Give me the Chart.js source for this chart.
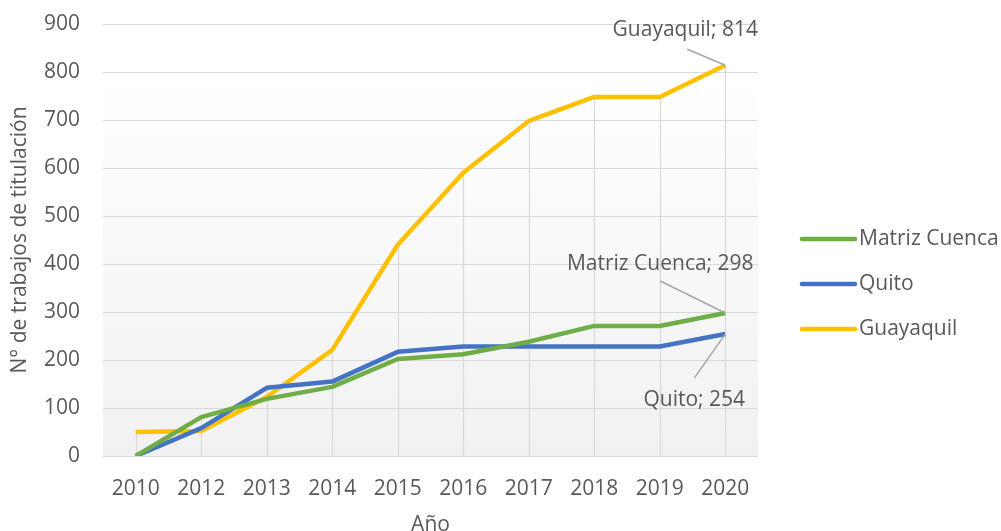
<!DOCTYPE html>
<html>
<head>
<meta charset="utf-8">
<script src="https://cdn.jsdelivr.net/npm/chart.js@4.4.1/dist/chart.umd.min.js"></script>
<style>
  html, body { margin: 0; padding: 0; background: #fff; }
  #wrap { width: 1001px; height: 531px; }
</style>
</head>
<body>
<div id="wrap"><canvas id="titulacionChart" width="1001" height="531"></canvas></div>
<script>
(function () {
    'use strict';

    var years = ['2010', '2012', '2013', '2014', '2015', '2016', '2017', '2018', '2019', '2020'];
    var cuenca = [0, 81, 119, 144, 202, 212, 238, 271, 271, 298];
    var quito = [0, 58, 142, 155, 217, 228, 228, 228, 228, 254];
    var guayaquil = [50, 52, 123, 221, 440, 590, 698, 748, 748, 814];
    var yTicks = [0, 100, 200, 300, 400, 500, 600, 700, 800, 900];

    var FONT = '"Open Sans", "DejaVu Sans", sans-serif';
    var FSIZE = 21;
    var TEXT = '#595959';

    // soft grey gradient behind the plot
    var plotBackground = {
        id: 'plotBackground',
        beforeDraw: function (chart) {
            var a = chart.chartArea, ctx = chart.ctx;
            var g = ctx.createLinearGradient(0, a.top, 0, a.bottom);
            g.addColorStop(0, '#ffffff');
            g.addColorStop(0.12, '#ffffff');
            g.addColorStop(1, '#f1f1f1');
            ctx.save();
            ctx.fillStyle = g;
            ctx.fillRect(a.left, a.top, a.right - a.left, a.bottom - a.top);
            ctx.restore();
        }
    };

    // drop lines from the highest point of each year down to the axis
    var dropLines = {
        id: 'dropLines',
        beforeDatasetsDraw: function (chart) {
            var x = chart.scales.x, y = chart.scales.y, ctx = chart.ctx;
            ctx.save();
            ctx.strokeStyle = '#d9d9d9';
            ctx.lineWidth = 1.2;
            years.forEach(function (yr, i) {
                var top = Math.max.apply(null, chart.data.datasets.map(function (d) { return d.data[i]; }));
                var px = Math.round(x.getPixelForValue(i)) + 0.5;
                ctx.beginPath();
                ctx.moveTo(px, y.getPixelForValue(top));
                ctx.lineTo(px, y.getPixelForValue(0));
                ctx.stroke();
            });
            ctx.restore();
        }
    };

    // last-point value labels with leader lines
    var endLabels = {
        id: 'endLabels',
        afterDatasetsDraw: function (chart) {
            var ctx = chart.ctx;
            var spots = [
                { ds: 0, dx: -65, dy: -49, lx: -65, ly: -32 },
                { ds: 1, dx: -31, dy: 66, lx: -31, ly: 44 },
                { ds: 2, dx: -40, dy: -35, lx: -38, ly: -16 }
            ];
            ctx.save();
            ctx.font = FSIZE + 'px ' + FONT;
            ctx.textAlign = 'center';
            ctx.textBaseline = 'middle';
            spots.forEach(function (s) {
                var d = chart.data.datasets[s.ds];
                var pt = chart.getDatasetMeta(s.ds).data[d.data.length - 1];
                ctx.strokeStyle = '#a6a6a6';
                ctx.lineWidth = 1.5;
                ctx.beginPath();
                ctx.moveTo(pt.x + s.lx, pt.y + s.ly);
                ctx.lineTo(pt.x, pt.y);
                ctx.stroke();
                ctx.fillStyle = TEXT;
                ctx.fillText(d.label + '; ' + d.data[d.data.length - 1], pt.x + s.dx, pt.y + s.dy);
            });
            ctx.restore();
        }
    };

    // legend on the right, drawn as line samples
    var sideLegend = {
        id: 'sideLegend',
        afterDraw: function (chart) {
            var ctx = chart.ctx;
            var mid = (chart.chartArea.top + chart.chartArea.bottom) / 2 + 44;
            var step = 45;
            ctx.save();
            ctx.font = FSIZE + 'px ' + FONT;
            ctx.textBaseline = 'middle';
            ctx.textAlign = 'left';
            chart.data.datasets.forEach(function (d, i) {
                var cy = mid + (i - 1) * step;
                ctx.strokeStyle = d.borderColor;
                ctx.lineWidth = 4.5;
                ctx.lineCap = 'round';
                ctx.beginPath();
                ctx.moveTo(802, cy);
                ctx.lineTo(855, cy);
                ctx.stroke();
                ctx.fillStyle = TEXT;
                ctx.fillText(d.label, 859, cy);
            });
            ctx.restore();
        }
    };

    function series(label, values, color) {
        return {
            label: label,
            data: values,
            borderColor: color,
            backgroundColor: color,
            borderWidth: 4.5,
            borderJoinStyle: 'round',
            borderCapStyle: 'butt',
            pointRadius: 0,
            tension: 0
        };
    }

    new Chart(document.getElementById('titulacionChart').getContext('2d'), {
        type: 'line',
        data: {
            labels: years,
            datasets: [
                series('Matriz Cuenca', cuenca, '#70ad47'),
                series('Quito', quito, '#4472c4'),
                series('Guayaquil', guayaquil, '#ffc000')
            ]
        },
        options: {
            responsive: false,
            animation: false,
            layout: { padding: { top: 24, right: 243, left: 0, bottom: 0 } },
            plugins: {
                legend: { display: false },
                tooltip: { enabled: false }
            },
            scales: {
                x: {
                    type: 'category',
                    offset: true,
                    grid: { display: false, drawTicks: false },
                    border: { display: false },
                    ticks: { color: TEXT, font: { family: FONT, size: FSIZE }, padding: 20, maxRotation: 0 },
                    title: {
                        display: true,
                        text: 'Año',
                        color: TEXT,
                        font: { family: FONT, size: FSIZE },
                        padding: { top: 0, bottom: -7 }
                    },
                    afterFit: function (s) {
                        s.height = 75;
                        s.paddingLeft = 0;
                        s.paddingRight = 0;
                    }
                },
                y: {
                    min: 0,
                    max: 900,
                    afterBuildTicks: function (s) {
                        s.ticks = yTicks.map(function (v) { return { value: v }; });
                    },
                    grid: { color: '#d9d9d9', lineWidth: 1, drawTicks: false },
                    border: { display: false },
                    ticks: { color: TEXT, font: { family: FONT, size: FSIZE }, padding: 23 },
                    title: {
                        display: true,
                        text: 'N° de trabajos de titulación',
                        color: TEXT,
                        font: { family: FONT, size: FSIZE },
                        padding: { top: 7, bottom: 0 }
                    },
                    afterFit: function (s) {
                        s.width = 103;
                        s.paddingTop = 0;
                        s.paddingBottom = 0;
                    }
                }
            }
        },
        plugins: [plotBackground, dropLines, endLabels, sideLegend]
    });
})();
</script>
</body>
</html>
